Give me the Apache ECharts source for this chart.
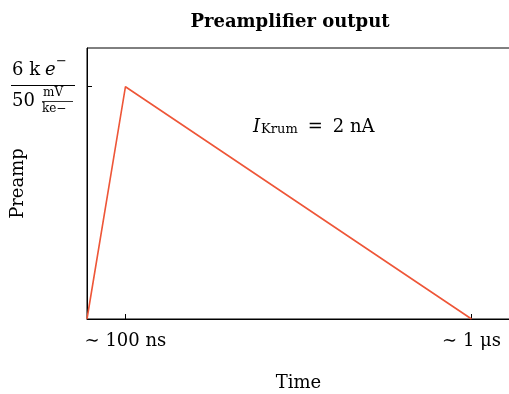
<!DOCTYPE html>
<html><head><meta charset="utf-8">
<script src="https://cdn.jsdelivr.net/npm/echarts@6/dist/echarts.min.js"></script>
<style>html,body{margin:0;padding:0;background:#fff}#c{width:509px;height:394px}</style>
</head><body><div id="c"></div>
<script>
var timeNs = [0, 100, 1000];
var preamp = [0, 6, 0];
var xTickValues = [100, 1000];
var xTickLabels = ['\u223C 100 ns', '\u223C 1 \u03BCs'];
var yTickValues = [6];
var titleText = 'Preamplifier output';
var xName = 'Time';
var yName = 'Preamp';

var serif = '"DejaVu Serif", "Liberation Serif", serif';
var chart = echarts.init(document.getElementById('c'), null, {renderer: 'canvas'});
chart.setOption({
  animation: false,
  backgroundColor: '#fff',
  title: {text: titleText, left: 285, textAlign: 'center', top: 8,
    textStyle: {fontFamily: serif, fontWeight: 'bold', fontSize: 18, color: '#000'}},
  grid: {left: 87, right: -1, top: 48, bottom: 75, show: true, borderColor: '#000', borderWidth: 1,
    containLabel: false, outerBoundsMode: 'none'},
  xAxis: {type: 'value', min: 0, max: 1100,
    name: xName, nameLocation: 'middle', nameGap: 55,
    nameTextStyle: {fontFamily: serif, fontSize: 18, color: '#000'},
    axisLine: {show: true, lineStyle: {color: '#000', width: 1}},
    axisTick: {show: true, inside: true, length: 5, customValues: xTickValues, lineStyle: {color: '#000'}},
    axisLabel: {show: true, customValues: xTickValues, margin: 13,
      fontFamily: serif, fontSize: 18, color: '#000',
      formatter: function (v) { return xTickLabels[xTickValues.indexOf(v)]; }},
    splitLine: {show: false}},
  yAxis: {type: 'value', min: 0, max: 7,
    name: yName, nameLocation: 'middle', nameGap: 60,
    nameTextStyle: {fontFamily: serif, fontSize: 18, color: '#000'},
    axisLine: {show: true, lineStyle: {color: '#000', width: 1}},
    axisTick: {show: true, inside: true, length: 5, customValues: yTickValues, lineStyle: {color: '#000'}},
    axisLabel: {show: false},
    splitLine: {show: false}},
  series: [{type: 'line', data: timeNs.map(function (t, i) { return [t, preamp[i]]; }),
    symbol: 'none', lineStyle: {color: '#ee5638', width: 1.6}, itemStyle: {color: '#ee5638'}}],
  graphic: [
    {type: 'text', left: 12, top: 61, style: {text: '6 k', font: '18px ' + serif, fill: '#000'}},
    {type: 'text', left: 45, top: 61, style: {text: 'e', font: 'italic 18px ' + serif, fill: '#000'}},
    {type: 'text', left: 56, top: 55, style: {text: '\u2212', font: '13px ' + serif, fill: '#000'}},
    {type: 'rect', shape: {x: 11, y: 85, width: 64, height: 1}, style: {fill: '#000'}},
    {type: 'text', left: 12, top: 92, style: {text: '50', font: '18px ' + serif, fill: '#000'}},
    {type: 'text', left: 43, top: 87, style: {text: 'mV', font: '12px ' + serif, fill: '#000'}},
    {type: 'rect', shape: {x: 42, y: 101, width: 31, height: 0.8}, style: {fill: '#000'}},
    {type: 'text', left: 42, top: 103, style: {text: 'ke\u2212', font: '12px ' + serif, fill: '#000'}},
    {type: 'text', left: 253, top: 118, style: {
      text: '{i|I}{s|Krum}{e|=}{t|2 nA}',
      rich: {i: {fontFamily: serif, fontStyle: 'italic', fontSize: 18, color: '#000', verticalAlign: 'bottom'},
             s: {fontFamily: serif, fontSize: 13, color: '#000', padding: [10, 0, 0, 1], verticalAlign: 'bottom'},
             e: {fontFamily: serif, fontSize: 18, color: '#000', padding: [0, 10, 0, 10], verticalAlign: 'bottom'},
             t: {fontFamily: serif, fontSize: 18, color: '#000', verticalAlign: 'bottom'}}}}
  ]
});
</script></body></html>
